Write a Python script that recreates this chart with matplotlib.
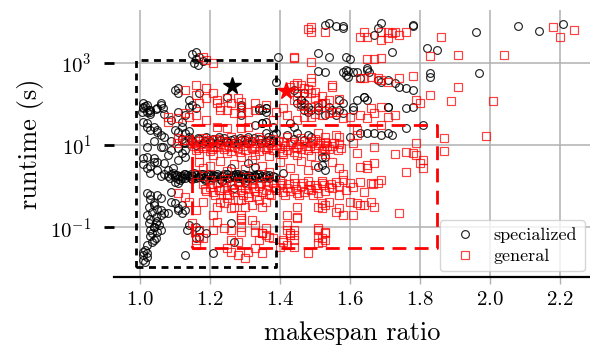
import numpy as np
import matplotlib.pyplot as plt
from matplotlib.ticker import NullLocator

plt.rcParams['font.family'] = 'cmr10'
plt.rcParams['mathtext.fontset'] = 'cm'
plt.rcParams['axes.formatter.use_mathtext'] = True

# (makespan ratio, log10 runtime in s)
spec_upper = [
    (1.15, 3.2), (1.16, 3.1), (1.17, 3.15), (1.155, 3.0), (1.165, 2.95), (1.18, 3.05), (1.16, 3.25),
    (1.394, 3.14), (1.39, 2.53),
    (1.53, 3.91), (1.54, 3.96), (1.56, 3.89), (1.58, 3.89), (1.58, 3.84),
    (1.67, 3.67), (1.68, 3.84), (1.69, 3.96), (1.72, 3.26), (1.78, 3.91), (1.78, 3.89),
    (1.82, 3.35), (1.85, 3.30), (1.96, 3.74), (2.08, 3.89), (2.14, 3.77), (2.21, 3.94),
    (1.51, 3.23), (1.54, 3.14), (1.59, 3.14), (1.60, 3.09),
    (1.97, 2.75), (1.83, 2.75), (1.83, 2.65),
    (1.51, 2.8), (1.53, 2.77), (1.59, 2.82), (1.595, 2.80), (1.61, 2.77), (1.65, 2.82), (1.655, 2.77),
    (1.63, 2.63), (1.68, 2.58), (1.69, 2.53), (1.71, 2.58), (1.73, 2.5), (1.74, 2.41), (1.76, 2.38),
    (1.78, 2.33), (1.58, 2.77), (1.59, 2.70), (1.595, 2.65), (1.62, 2.77), (1.65, 2.87),
]
spec_middle = [
    (1.64, 2.17), (1.62, 2.09), (1.61, 1.92), (1.61, 1.85), (1.57, 2.09), (1.58, 2.02), (1.57, 1.85),
    (1.58, 1.78), (1.56, 1.73), (1.52, 2.02), (1.54, 1.92), (1.55, 1.85), (1.47, 2.26), (1.46, 2.09),
    (1.47, 1.85), (1.71, 1.92), (1.76, 1.41), (1.81, 1.49), (1.60, 1.19), (1.63, 1.29), (1.65, 1.29),
    (1.67, 1.29), (1.69, 1.24), (1.71, 1.29), (1.72, 1.24), (1.49, 1.19), (1.47, 1.12), (1.52, 0.71),
    (1.53, 0.39), (1.41, 0.32), (1.64, 2.17), (1.65, 2.09), (1.71, 1.92), (1.76, 1.9), (1.78, 1.92),
    (1.44, 2.33), (1.45, 2.26), (1.46, 2.09), (1.47, 2.02), (1.48, 1.92), (1.49, 1.85), (1.51, 1.92),
    (1.51, 1.85), (1.53, 1.73), (1.36, 1.9), (1.36, 1.8), (1.42, 1.25), (1.45, 1.3), (1.48, 1.25),
    (1.44, 1.15), (1.36, 1.55), (1.38, 1.45),
]
spec_left = [
    (1.01, 1.92), (1.02, 1.80), (1.03, 1.85), (1.06, 2.02), (1.05, 1.9), (1.10, 2.33), (1.11, 2.26),
    (1.11, 2.38), (1.14, 2.09), (1.15, 1.97), (1.14, 1.92), (1.16, 1.9), (1.17, 2.26),
    (1.02, 1.44), (1.03, 1.36), (1.05, 1.32), (1.11, 1.8), (1.12, 1.56), (1.13, 1.73), (1.25, 2.17),
    (1.29, 1.97), (1.34, 1.85), (1.36, 1.9), (1.33, 1.49), (1.35, 1.53),
    (1.02, 0.71), (1.04, 0.68), (1.02, 0.95), (1.06, 0.95), (1.08, 0.76),
    (1.01, 2.02), (1.02, 1.97), (1.025, 1.85), (1.03, 1.80), (1.01, 1.9), (1.06, 1.97), (1.065, 1.9),
    (1.01, 1.56), (1.02, 1.53), (1.04, 1.44), (1.05, 1.36), (1.10, 1.36), (1.11, 1.32), (1.13, 1.29),
    (1.065, 0.95), (1.09, 0.88), (1.11, 0.93), (1.13, 0.88), (1.11, 0.64), (1.13, 0.71), (1.12, 0.81),
    (1.01, 0.68), (1.04, 0.59), (1.05, 0.39), (1.03, 0.32), (1.07, 0.56), (1.08, 0.39), (1.095, 0.44),
    (1.29, 1.92), (1.29, 1.73), (1.34, 1.9), (1.35, 1.85), (1.35, 1.53), (1.43, 1.53), (1.44, 1.44),
    (1.45, 2.02), (1.46, 1.97), (1.48, 1.80), (1.53, 0.71), (1.52, 0.51), (1.51, 0.47), (1.31, 0.56),
    (1.33, 0.47), (1.36, 1.29), (1.38, 1.24), (1.39, 1.29), (1.01, 0.55), (1.02, 0.45), (1.03, 0.5),
    (1.05, 0.6), (1.06, 0.25), (1.07, 0.3), (1.26, 0.45), (1.28, 0.3), (1.30, 0.1), (1.27, -0.05),
    (1.005, 1.8), (1.015, 1.95), (1.03, 1.75), (1.045, 1.88), (1.07, 1.75), (1.09, 1.6),
    (1.12, 1.45), (1.14, 1.35), (1.07, 1.2), (1.09, 1.1), (1.04, 1.1), (1.06, 1.25),
]
spec_low = [
    (1.02, -0.17), (1.03, -0.21), (1.04, -0.46), (1.06, -0.58), (1.07, -0.65), (1.08, -0.65),
    (1.02, -0.70), (1.025, -0.89), (1.03, -1.06), (1.035, -1.14), (1.04, -0.99), (1.045, -1.26),
    (1.02, -1.43), (1.02, -1.72), (1.015, -1.84), (1.01, -1.79), (1.09, -0.38), (1.10, -0.41),
    (1.11, -0.53), (1.13, -0.58), (1.12, -0.46), (1.14, -0.94), (1.135, -1.06), (1.16, -1.26),
    (1.21, -1.62), (1.09, -0.14), (1.05, -0.21), (1.06, -0.29), (1.13, -1.67), (1.11, -0.58),
    (1.12, -0.65), (1.10, 0.1), (1.11, 0.08), (1.16, -0.99), (1.17, -1.06), (1.17, -1.23),
    (1.19, -1.14), (1.26, -0.89), (1.27, -1.35), (1.03, -0.3), (1.04, -0.4), (1.05, -0.55),
    (1.035, -0.62), (1.045, -0.75), (1.05, -0.85), (1.055, -0.95), (1.04, -1.0), (1.05, -1.1),
    (1.03, -1.2), (1.04, -1.3), (1.06, -0.7), (1.06, -1.05), (1.025, -0.5), (1.015, -1.55),
    (1.02, -1.62), (1.01, -1.67), (1.01, -1.6), (1.03, -0.8), (1.045, -0.9), (1.035, -1.35),
]
spec_bands = [
    (1.08, 0.25), (1.09, 0.30), (1.10, 0.22), (1.105, 0.28), (1.11, 0.18), (1.12, 0.26), (1.125, 0.31),
    (1.13, 0.20), (1.14, 0.24), (1.145, 0.29), (1.15, 0.17), (1.16, 0.27), (1.17, 0.22), (1.175, 0.30),
    (1.18, 0.19), (1.19, 0.25), (1.20, 0.28), (1.21, 0.21), (1.22, 0.26), (1.23, 0.18), (1.24, 0.24),
    (1.25, 0.29), (1.26, 0.22), (1.27, 0.27), (1.28, 0.20), (1.29, 0.25), (1.30, 0.23), (1.31, 0.28),
    (1.32, 0.19), (1.33, 0.26), (1.34, 0.22), (1.35, 0.24), (1.36, 0.27), (1.37, 0.21), (1.38, 0.25),
    (1.095, 0.33), (1.115, 0.15), (1.135, 0.27), (1.155, 0.32), (1.165, 0.23), (1.185, 0.16),
    (1.195, 0.31), (1.215, 0.24), (1.235, 0.14), (1.255, 0.20), (1.275, 0.30), (1.295, 0.17),
    (1.315, 0.25), (1.335, 0.29),
    (1.085, 0.2), (1.1, 0.27), (1.115, 0.24), (1.13, 0.29), (1.145, 0.21), (1.16, 0.2), (1.175, 0.25),
    (1.19, 0.18), (1.205, 0.23), (1.22, 0.3), (1.235, 0.26), (1.25, 0.2), (1.265, 0.28), (1.28, 0.24),
    (1.295, 0.29), (1.31, 0.21), (1.325, 0.27), (1.34, 0.3), (1.355, 0.2), (1.37, 0.28), (1.385, 0.22),
    (1.12, 0.2), (1.15, 0.26), (1.18, 0.3), (1.21, 0.27), (1.24, 0.3), (1.27, 0.23), (1.3, 0.27),
    (1.33, 0.22), (1.36, 0.23),
    (1.12, 1.15), (1.13, 1.05), (1.14, 1.2), (1.15, 1.1), (1.16, 1.0), (1.17, 1.15), (1.18, 1.05),
    (1.19, 1.2), (1.20, 1.1), (1.21, 1.15), (1.22, 1.05), (1.23, 1.12), (1.24, 1.18), (1.25, 1.08),
    (1.26, 1.12), (1.27, 1.15), (1.28, 1.05), (1.30, 1.12), (1.32, 1.1), (1.34, 1.15), (1.36, 1.08),
    (1.37, 1.12), (1.38, 1.1), (1.125, 1.08), (1.145, 1.12), (1.165, 1.18), (1.185, 1.1),
    (1.205, 1.04), (1.225, 1.2), (1.245, 1.1), (1.265, 1.04), (1.285, 1.18), (1.305, 1.06),
    (1.325, 1.18), (1.345, 1.05), (1.365, 1.2), (1.29, 1.12), (1.31, 1.2),
]

gen_upper = [
    (1.48, 3.82), (1.49, 3.86), (1.49, 3.74), (1.53, 3.74), (1.63, 3.62), (1.64, 3.74), (1.65, 3.62),
    (1.69, 3.74), (1.69, 3.55), (1.71, 3.6), (1.71, 3.74), (1.72, 3.72), (1.73, 3.74), (1.74, 3.67),
    (1.76, 3.74), (1.86, 3.62), (1.83, 3.16), (1.91, 3.18), (2.04, 3.18), (2.18, 3.86), (2.20, 3.62),
    (2.24, 3.79), (1.44, 3.11), (1.49, 3.01), (1.65, 3.09), (1.67, 3.09), (1.69, 3.11), (1.44, 3.14),
    (1.63, 2.63), (1.64, 2.63), (1.66, 2.65), (1.68, 2.63), (1.69, 2.58), (1.71, 2.53), (1.74, 2.63),
    (1.78, 2.67), (1.49, 2.63), (1.49, 2.53), (1.55, 2.41), (1.44, 2.46), (1.46, 2.46), (1.47, 2.26),
    (1.49, 2.26), (1.50, 2.14), (1.54, 2.09), (1.52, 2.02), (1.91, 2.41), (1.89, 2.07), (2.01, 2.07),
    (1.83, 2.21), (1.79, 2.09), (1.80, 2.02), (1.66, 1.9), (1.69, 1.92), (1.67, 1.78), (1.69, 1.49),
    (1.71, 1.68), (1.73, 1.73), (1.60, 1.68), (1.63, 1.73), (1.65, 1.66), (1.47, 1.68), (1.49, 1.68),
    (1.52, 1.73), (1.43, 2.4), (1.45, 2.2), (1.48, 2.35), (1.44, 2.1), (1.46, 1.95), (1.45, 2.5),
    (1.47, 2.38), (1.50, 2.3), (1.52, 2.2), (1.55, 2.45), (1.57, 2.12), (1.50, 1.75), (1.55, 1.8),
    (1.58, 1.65), (1.45, 1.6), (1.47, 1.97), (1.49, 1.92), (1.51, 1.97), (1.53, 2.02), (1.54, 1.78),
    (1.56, 1.80),
]
gen_left = [
    (1.18, 3.14), (1.19, 3.06), (1.21, 2.99), (1.16, 2.46), (1.13, 2.33), (1.19, 2.38), (1.21, 2.26),
    (1.22, 2.02), (1.23, 1.92), (1.23, 1.85), (1.08, 1.68), (1.08, 1.56), (1.11, 1.66), (1.13, 1.78),
    (1.14, 1.68), (1.16, 1.73), (1.19, 1.61), (1.26, 2.02), (1.29, 1.92), (1.31, 1.80), (1.25, 1.85),
    (1.27, 1.78), (1.29, 1.61), (1.33, 2.02), (1.36, 1.97), (1.39, 1.8), (1.38, 1.61), (1.41, 1.9),
    (1.42, 1.73), (1.12, 1.12), (1.105, 1.05), (1.19, 1.12), (1.21, 0.95), (1.22, 1.44), (1.25, 1.41),
    (1.29, 1.41), (1.31, 1.44), (1.29, 2.04), (1.29, 1.78), (1.33, 1.85), (1.16, 2.21), (1.17, 2.02),
    (1.19, 2.14), (1.22, 2.09), (1.25, 2.14), (1.28, 2.14), (1.11, 1.17), (1.13, 1.12),
]
gen_right = [
    (1.99, 1.22), (1.87, 1.17), (1.87, 0.85), (1.73, 0.78), (1.76, 0.83), (1.79, 0.76), (1.80, 0.56),
    (1.81, 0.44), (1.76, 0.34), (1.67, 0.95), (1.65, 0.44), (1.63, 0.47), (1.62, 0.81), (1.67, 0.56),
    (1.66, 0.08), (1.69, 0.15), (1.63, 0.1), (1.64, -0.14), (1.61, -0.02), (1.66, -0.38), (1.63, -0.46),
    (1.62, -0.41), (1.60, -0.38), (1.61, -0.70), (1.57, -0.53), (1.54, -0.38), (1.53, -0.46),
    (1.52, -0.53), (1.74, -0.65), (1.51, -1.06), (1.53, -1.11), (1.52, -1.26), (1.51, -1.38),
    (1.53, -1.31), (1.48, -1.62), (1.45, -0.77), (1.44, -1.06), (1.41, -1.31), (1.40, -1.48),
    (1.61, 1.05), (1.62, 1.36), (1.62, 1.24), (1.57, 1.19), (1.56, 1.24), (1.53, 1.19), (1.53, 1.07),
    (1.51, 1.29), (1.79, 1.05), (1.81, 0.64), (1.78, 0.81), (1.65, 0.51), (1.68, 0.08), (1.665, 0.05),
    (1.67, -0.5), (1.64, -0.46), (1.56, 0.1), (1.58, 0.15), (1.60, 0.08), (1.57, 0.0), (1.55, -0.05),
    (1.59, -0.1), (1.57, -0.2), (1.51, -1.01), (1.53, -1.14), (1.52, -1.35), (1.51, -1.23),
    (1.52, -0.41), (1.51, -0.5), (1.58, -0.7), (1.56, -0.62),
]
gen_bands = [
    (1.15, 1.05), (1.17, 1.10), (1.19, 0.98), (1.21, 1.12), (1.23, 1.02), (1.25, 1.08), (1.27, 0.95),
    (1.29, 1.10), (1.31, 1.04), (1.33, 0.98), (1.35, 1.12), (1.37, 1.06), (1.39, 1.00), (1.41, 1.08),
    (1.43, 1.02), (1.45, 0.96), (1.47, 1.10), (1.49, 1.04), (1.51, 1.00), (1.53, 1.06), (1.55, 0.98),
    (1.57, 1.02), (1.16, 0.88), (1.18, 0.92), (1.20, 0.85), (1.22, 0.95), (1.24, 0.90), (1.26, 0.86),
    (1.28, 0.92), (1.30, 0.88), (1.32, 0.94), (1.34, 0.85), (1.36, 0.90), (1.38, 0.87), (1.40, 0.93),
    (1.42, 0.89), (1.44, 0.84), (1.46, 0.91), (1.48, 0.87), (1.50, 0.93), (1.52, 0.86), (1.54, 0.90),
    (1.18, 1.18), (1.22, 1.15), (1.26, 1.20), (1.30, 1.16), (1.34, 1.19), (1.38, 1.14), (1.42, 1.20),
    (1.46, 1.17), (1.50, 1.15), (1.17, 0.78), (1.21, 0.75), (1.25, 0.80), (1.29, 0.72), (1.33, 0.77),
    (1.37, 0.74), (1.41, 0.79), (1.45, 0.76), (1.49, 0.73), (1.53, 0.78),
    (1.155, 0.97), (1.175, 1.03), (1.195, 1.08), (1.215, 0.99), (1.235, 1.09), (1.255, 0.97),
    (1.275, 1.05), (1.295, 0.99), (1.315, 1.11), (1.335, 1.05), (1.355, 0.96), (1.375, 1.01),
    (1.395, 1.09), (1.415, 0.97), (1.435, 1.08), (1.455, 1.03), (1.475, 0.99), (1.495, 1.09),
    (1.515, 1.05), (1.535, 0.97), (1.555, 1.04), (1.575, 0.94), (1.165, 0.93), (1.205, 0.91),
    (1.245, 0.96), (1.285, 0.83), (1.325, 0.9), (1.365, 0.96), (1.405, 0.84), (1.445, 0.92),
    (1.485, 0.97), (1.525, 0.92), (1.565, 0.88),
    (1.18, 0.05), (1.20, -0.02), (1.22, 0.08), (1.24, -0.05), (1.26, 0.03), (1.28, 0.10), (1.30, -0.04),
    (1.32, 0.06), (1.34, 0.00), (1.36, -0.08), (1.38, 0.07), (1.40, 0.02), (1.42, -0.03), (1.44, 0.09),
    (1.46, 0.01), (1.48, -0.06), (1.50, 0.04), (1.52, 0.08), (1.54, -0.02), (1.19, -0.12),
    (1.21, -0.15), (1.23, -0.10), (1.25, -0.18), (1.27, -0.13), (1.29, -0.09), (1.31, -0.16),
    (1.33, -0.11), (1.35, -0.14), (1.37, -0.19), (1.39, -0.10), (1.41, -0.15), (1.43, -0.12),
    (1.45, -0.17), (1.47, -0.13), (1.49, -0.10), (1.51, -0.16), (1.53, -0.12), (1.20, 0.15),
    (1.24, 0.18), (1.28, 0.14), (1.32, 0.17), (1.36, 0.13), (1.40, 0.16), (1.44, 0.19), (1.48, 0.14),
    (1.52, 0.12),
    (1.185, -0.07), (1.205, 0.06), (1.225, -0.08), (1.245, 0.1), (1.265, -0.06), (1.285, 0.02),
    (1.305, 0.08), (1.325, -0.05), (1.345, 0.09), (1.365, 0.03), (1.385, -0.05), (1.405, 0.08),
    (1.425, 0.05), (1.445, -0.07), (1.465, 0.07), (1.485, 0.03), (1.505, -0.05), (1.525, 0.02),
    (1.545, 0.06), (1.215, -0.2), (1.255, -0.22), (1.295, -0.2), (1.335, -0.23), (1.375, -0.21),
    (1.415, -0.22), (1.455, -0.2), (1.495, -0.22),
]
gen_low = [
    (1.17, 0.6), (1.18, 0.45), (1.16, 0.3), (1.20, 0.5), (1.23, 0.62), (1.25, 0.38), (1.27, 0.55),
    (1.30, 0.42), (1.32, 0.65), (1.35, 0.5), (1.37, 0.35), (1.40, 0.58), (1.43, 0.45), (1.46, 0.62),
    (1.48, 0.4), (1.50, 0.52), (1.55, 0.6), (1.57, 0.45), (1.58, 0.3),
    (1.22, -0.5), (1.24, -0.41), (1.27, -0.5), (1.28, -0.33), (1.26, -0.53), (1.30, -0.5),
    (1.31, -0.26), (1.35, -0.5), (1.34, -0.33), (1.36, -0.38), (1.42, -0.70), (1.45, -0.75),
    (1.45, -0.5), (1.29, -0.77), (1.32, -0.82), (1.29, -0.70), (1.33, -0.94), (1.42, -0.94),
    (1.43, -1.14), (1.44, -1.18), (1.24, -1.01), (1.26, -1.06), (1.29, -0.99), (1.29, -0.82),
    (1.29, -1.11), (1.35, -1.14), (1.36, -1.18), (1.38, -1.26), (1.33, -1.11), (1.28, -1.67),
    (1.30, -1.74), (1.31, -1.60), (1.33, -1.50), (1.35, -1.62), (1.18, -1.26), (1.16, -1.31),
    (1.17, -1.23), (1.11, -0.17), (1.13, -0.26), (1.14, -0.38), (1.18, -0.38), (1.16, -0.58),
    (1.21, -0.70), (1.22, -0.87), (1.21, -1.06), (1.26, -1.31), (1.28, -1.35), (1.23, -0.38),
    (1.25, -0.29), (1.15, -0.89), (1.17, -1.06), (1.16, -1.43), (1.29, -0.33), (1.32, -0.45),
    (1.42, -1.06), (1.43, -1.18), (1.44, -1.31), (1.44, -1.48), (1.42, -1.43), (1.41, -1.35),
    (1.36, -1.01), (1.35, -1.14), (1.34, -1.31), (1.37, -1.23), (1.26, -1.6), (1.25, -1.5),
]

spec_best = (1.264, 270)
gen_best = (1.417, 210)
spec_box = (0.99, 1.39, 0.011, 1150)
gen_box = (1.15, 1.85, 0.032, 30)

spec = np.array(spec_upper + spec_middle + spec_left + spec_low + spec_bands)
gen = np.array(gen_upper + gen_left + gen_right + gen_bands + gen_low)

fig = plt.figure(figsize=(5.9, 3.47), dpi=100)
ax = fig.add_axes([0.193, 0.202, 0.807, 0.769])

ax.plot(spec[:, 0], 10 ** spec[:, 1], 'o', ms=5.6, mfc='none', mec='black', mew=0.85,
        alpha=0.85, label='specialized', zorder=3)
ax.plot(gen[:, 0], 10 ** gen[:, 1], 's', ms=5.2, mfc='none', mec='red', mew=0.85,
        alpha=0.75, label='general', zorder=4)

x0, x1, y0, y1 = spec_box
ax.plot([x0, x1, x1, x0, x0], [y0, y0, y1, y1, y0], color='black', lw=2,
        ls=(0, (2.5, 2)), zorder=5)
x0, x1, y0, y1 = gen_box
ax.plot([x0, x1, x1, x0, x0], [y0, y0, y1, y1, y0], color='red', lw=2,
        ls=(0, (5, 3)), zorder=5)

ax.plot(*spec_best, marker='*', color='black', ms=13, zorder=6)
ax.plot(*gen_best, marker='*', color='red', ms=13, zorder=6)

ax.set_yscale('log')
ax.set_xlim(0.926, 2.286)
ax.set_ylim(0.0063, 19000)
ax.set_yticks([0.1, 10, 1000])
ax.yaxis.set_minor_locator(NullLocator())
ax.set_xticks([1.0, 1.2, 1.4, 1.6, 1.8, 2.0, 2.2])

ax.set_axisbelow(True)
ax.grid(True, color='#b0b0b0', lw=1.1)
for side in ['left', 'top', 'right']:
    ax.spines[side].set_visible(False)
ax.spines['bottom'].set_linewidth(1.6)
ax.tick_params(axis='y', length=7, width=2, color='black', labelsize=15, pad=9)
ax.tick_params(axis='x', length=5, width=1.0, color='#b0b0b0', labelsize=15, pad=5)

ax.set_xlabel('makespan ratio', fontsize=19, labelpad=9)
ax.set_ylabel('runtime (s)', fontsize=19, labelpad=5)

ax.legend(loc='lower right', fontsize=13, framealpha=0.8, borderaxespad=0.3,
          handletextpad=0.6, borderpad=0.4, labelspacing=0.3)

fig.savefig('out.png', dpi=100)
